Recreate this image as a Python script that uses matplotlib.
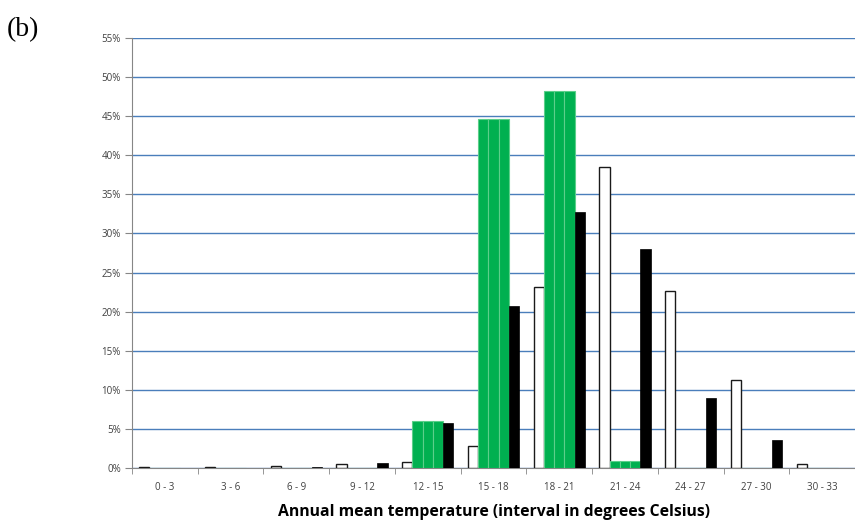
import numpy as np
import matplotlib.pyplot as plt
from matplotlib.ticker import FixedLocator, FuncFormatter

# Data (percent of area per annual mean temperature interval)
categories = ['0 - 3', '3 - 6', '6 - 9', '9 - 12', '12 - 15', '15 - 18',
              '18 - 21', '21 - 24', '24 - 27', '27 - 30', '30 - 33']
white_vals = [0.08, 0.08, 0.2, 0.45, 0.75, 2.8, 23.2, 38.5, 22.6, 11.3, 0.45]
green_vals = [0.0, 0.0, 0.0, 0.05, 6.0, 44.7, 48.2, 0.9, 0.0, 0.0, 0.0]
black_vals = [0.0, 0.0, 0.08, 0.6, 5.7, 20.7, 32.7, 28.0, 8.9, 3.6, 0.0]

fig = plt.figure(figsize=(8.55, 5.26), dpi=100)
ax = fig.add_axes([132/855, 58/526, 723/855, 430/526])

x = np.arange(len(categories))
w = 0.156
green = '#00b050'
green_edge = '#5ccf8a'

ax.bar(x - 2*w, white_vals, w, color='white', edgecolor='#1a1a1a', linewidth=1.0, zorder=3)
for k in (-1, 0, 1):
    ax.bar(x + k*w, green_vals, w, color=green, edgecolor=green_edge, linewidth=0.8, zorder=3)
ax.bar(x + 2*w, black_vals, w, color='black', edgecolor='black', linewidth=0.5, zorder=3)

ax.set_ylim(0, 55)
ax.set_xlim(-0.5, -0.5 + 723/66.5)

ax.yaxis.set_major_locator(FixedLocator(np.arange(0, 56, 5)))
ax.yaxis.set_major_formatter(FuncFormatter(lambda v, p: '{:d}%'.format(int(round(v)))))
ax.grid(axis='y', color='#4a7ebb', linewidth=1.0, zorder=0)
ax.set_axisbelow(True)

ax.set_xticks(x)
ax.set_xticklabels(categories)
ax.set_xticks(np.arange(-0.5, len(categories) + 0.5, 1), minor=True)
ax.tick_params(axis='x', which='major', length=0, pad=10, labelsize=7, labelcolor='#404040')
ax.tick_params(axis='x', which='minor', length=4, color='#868686', direction='out')
ax.tick_params(axis='y', length=5, color='#868686', pad=3, labelsize=7, labelcolor='#404040')

for lab in ax.get_xticklabels() + ax.get_yticklabels():
    lab.set_family('Open Sans')

for s in ('top', 'right'):
    ax.spines[s].set_visible(False)
ax.spines['left'].set_color('#868686')
ax.spines['bottom'].set_color('#868686')

ax.set_xlabel('Annual mean temperature (interval in degrees Celsius)',
              fontsize=11.3, fontweight='bold', family='Open Sans', labelpad=8)

fig.text(7/855, 1 - 36/526, '(b)', fontsize=20, family='Liberation Serif')

plt.savefig('out.png', dpi=100)
